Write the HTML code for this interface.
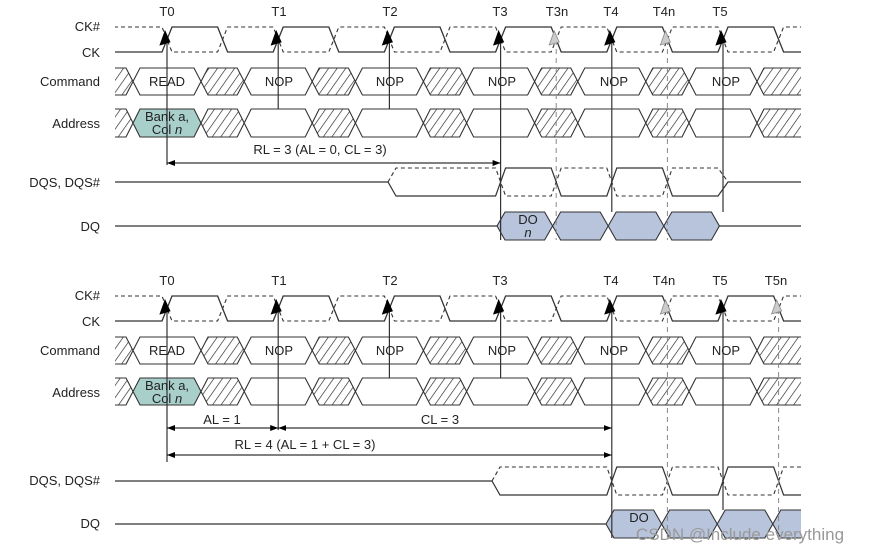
<!DOCTYPE html>
<html><head><meta charset="utf-8"><style>
body{margin:0;background:#fff;width:869px;height:554px;overflow:hidden}
svg{display:block}
text{font-family:"Liberation Sans",sans-serif;font-size:13px;fill:#222}
</style></head><body>
<svg id="s" width="869" height="554" viewBox="0 0 869 554">
<defs>
<pattern id="h" width="7" height="7" patternUnits="userSpaceOnUse" patternTransform="rotate(35)">
<line x1="0" y1="0" x2="0" y2="7" stroke="#222" stroke-width="1.3"/></pattern>
<clipPath id="c"><rect x="115" y="0" width="686" height="554"/></clipPath>
<marker id="a" markerWidth="8" markerHeight="6" refX="8" refY="3" orient="auto"><path d="M0,0L8,3L0,6z" fill="#000"/></marker>
<marker id="b" markerWidth="8" markerHeight="6" refX="0" refY="3" orient="auto"><path d="M8,0L0,3L8,6z" fill="#000"/></marker>
</defs>
<g id="g" clip-path="url(#c)"></g>
<g id="v"></g>
<text x="100" y="31" text-anchor="end">CK#</text>
<text x="100" y="57" text-anchor="end">CK</text>
<text x="100" y="86" text-anchor="end">Command</text>
<text x="100" y="128" text-anchor="end">Address</text>
<text x="100" y="187" text-anchor="end">DQS, DQS#</text>
<text x="100" y="231" text-anchor="end">DQ</text>
<text x="167" y="16" text-anchor="middle">T0</text>
<text x="279" y="16" text-anchor="middle">T1</text>
<text x="390" y="16" text-anchor="middle">T2</text>
<text x="500" y="16" text-anchor="middle">T3</text>
<text x="557" y="16" text-anchor="middle">T3n</text>
<text x="611" y="16" text-anchor="middle">T4</text>
<text x="664" y="16" text-anchor="middle">T4n</text>
<text x="720" y="16" text-anchor="middle">T5</text>
<text x="167" y="86" text-anchor="middle">READ</text>
<text x="279" y="86" text-anchor="middle">NOP</text>
<text x="390" y="86" text-anchor="middle">NOP</text>
<text x="502" y="86" text-anchor="middle">NOP</text>
<text x="614" y="86" text-anchor="middle">NOP</text>
<text x="726" y="86" text-anchor="middle">NOP</text>
<text x="167" y="121" text-anchor="middle">Bank a,</text>
<text x="167" y="134" text-anchor="middle">Col <tspan font-style="italic">n</tspan></text>
<text x="320" y="154" text-anchor="middle">RL = 3 (AL = 0, CL = 3)</text>
<text x="528" y="224" text-anchor="middle">DO</text>
<text x="528" y="237" text-anchor="middle" font-style="italic">n</text>

<text x="100" y="300" text-anchor="end">CK#</text>
<text x="100" y="326" text-anchor="end">CK</text>
<text x="100" y="355" text-anchor="end">Command</text>
<text x="100" y="397" text-anchor="end">Address</text>
<text x="100" y="485" text-anchor="end">DQS, DQS#</text>
<text x="100" y="528" text-anchor="end">DQ</text>
<text x="167" y="285" text-anchor="middle">T0</text>
<text x="279" y="285" text-anchor="middle">T1</text>
<text x="390" y="285" text-anchor="middle">T2</text>
<text x="500" y="285" text-anchor="middle">T3</text>
<text x="611" y="285" text-anchor="middle">T4</text>
<text x="664" y="285" text-anchor="middle">T4n</text>
<text x="720" y="285" text-anchor="middle">T5</text>
<text x="776" y="285" text-anchor="middle">T5n</text>
<text x="167" y="355" text-anchor="middle">READ</text>
<text x="279" y="355" text-anchor="middle">NOP</text>
<text x="390" y="355" text-anchor="middle">NOP</text>
<text x="502" y="355" text-anchor="middle">NOP</text>
<text x="614" y="355" text-anchor="middle">NOP</text>
<text x="726" y="355" text-anchor="middle">NOP</text>
<text x="167" y="390" text-anchor="middle">Bank a,</text>
<text x="167" y="403" text-anchor="middle">Col <tspan font-style="italic">n</tspan></text>
<text x="222" y="424" text-anchor="middle">AL = 1</text>
<text x="440" y="424" text-anchor="middle">CL = 3</text>
<text x="305" y="449" text-anchor="middle">RL = 4 (AL = 1 + CL = 3)</text>
<text x="639" y="522" text-anchor="middle">DO</text>
<text x="740" y="540" text-anchor="middle" style="fill:#999;font-size:17px">CSDN @Include everything</text>
</svg>
<script>
var NS="http://www.w3.org/2000/svg",G=document.getElementById('g'),V=document.getElementById('v');
function el(p,t,a){var e=document.createElementNS(NS,t);for(var k in a)e.setAttribute(k,a[k]);p.appendChild(e);return e;}
var P=111.2,T0=167;function T(k){return T0+P*k;}
function pl(p,pts,a){a.points=pts.map(function(q){return q[0]+','+q[1]}).join(' ');a.fill=a.fill||'none';return el(p,'polyline',a);}
function clock(yt,yb){var s=[[100,yb]],d=[[100,yt]];for(var k=0;k<7;k++){var t=T(k),f=t+P/2;
s.push([t-5,yb],[t+5,yt],[f-5,yt],[f+5,yb]);d.push([t-5,yt],[t+5,yb],[f-5,yb],[f+5,yt]);}
pl(G,s,{stroke:'#333','stroke-width':1.3});pl(G,d,{stroke:'#333','stroke-width':1.1,'stroke-dasharray':'4,3'});}
function hex(x0,x1,yt,yb,fill,s){s=s||7;var m=(yt+yb)/2;el(G,'polygon',{points:[[x0,m],[x0+s,yt],[x1-s,yt],[x1,m],[x1-s,yb],[x0+s,yb]].join(' '),fill:fill,stroke:'#333','stroke-width':1.1});}
function bus(yt,yb,first){var prev=95;for(var k=0;k<6;k++){var a=T(k)-34,b=T(k)+34;hex(prev,a,yt,yb,'url(#h)');
hex(a,b,yt,yb,(k==0&&first)?first:'#fff');prev=b;}hex(prev,830,yt,yb,'url(#h)');}
function dqs(yt,yb,p0,t0,te){var m=(yt+yb)/2,s=[[100,m],[p0,m],[p0+8,yb],[t0-5,yb]],d=[[p0,m],[p0+8,yt],[t0-5,yt]];
var x=t0,hi=true;while(x<(te||900)){var n=x+P/2;if(hi){s.push([x+5,yt],[n-5,yt]);d.push([x+5,yb],[n-5,yb]);}else{s.push([x+5,yb],[n-5,yb]);d.push([x+5,yt],[n-5,yt]);}hi=!hi;x=n;}
if(te){s.push([te+5,m],[830,m]);d.push([te+5,m]);}
pl(G,s,{stroke:'#333','stroke-width':1.2});pl(G,d,{stroke:'#333','stroke-width':1.1,'stroke-dasharray':'4,3'});}
function dq(yt,yb,d0,n){var m=(yt+yb)/2;el(G,'line',{x1:100,y1:m,x2:d0,y2:m,stroke:'#333','stroke-width':1.2});
var x=d0;for(var i=0;i<n;i++){hex(x,x+P/2,yt,yb,'#b7c4dc',8);x+=P/2;}if(n<6)el(G,'line',{x1:x,y1:m,x2:830,y2:m,stroke:'#333','stroke-width':1.2});}
function vl(x,y0,y1,dash){el(V,'line',{x1:x,y1:y0,x2:x,y2:y1,stroke:dash?'#888':'#333','stroke-width':dash?1:1.2,'stroke-dasharray':dash?'5,4':''});}
function arr(x,yt,gray){var y=yt+4;el(V,'polygon',{points:(x-1)+','+y+' '+(x-6)+','+(y+14)+' '+(x+4)+','+(y+11),fill:gray?'#ccc':'#000',stroke:gray?'#888':'#000','stroke-width':0.8});}
function harr(x0,x1,y){el(V,'line',{x1:x0,y1:y,x2:x1,y2:y,stroke:'#000','stroke-width':1,'marker-end':'url(#a)','marker-start':'url(#b)'});}
clock(27,52);bus(68,95,null);bus(109,137,'#a9cfcb');dqs(168,196,388,T(3),T(5));dq(212,240,497,4);
vl(T(0),40,165);vl(T(1),40,109);vl(T(2),40,109);vl(T(3),40,240);vl(T(4),40,212);vl(T(5),40,212);
vl(T(3)+P/2,40,240,1);vl(T(4)+P/2,40,240,1);
[0,1,2,3,4,5].forEach(function(k){arr(T(k)-1,27);});arr(T(3)+P/2-1,27,1);arr(T(4)+P/2-1,27,1);
harr(T(0),T(3),163);
clock(296,321);bus(337,364,null);bus(378,405,'#a9cfcb');dqs(467,495,492,T(4));dq(510,538,606,5);
vl(T(0),309,462);vl(T(1),309,430);vl(T(2),309,378);vl(T(3),309,378);vl(T(4),309,538);vl(T(5),309,510);
vl(T(4)+P/2,309,538,1);vl(T(5)+P/2,309,538,1);
[0,1,2,3,4,5].forEach(function(k){arr(T(k)-1,296);});arr(T(4)+P/2-1,296,1);arr(T(5)+P/2-1,296,1);
harr(T(0),T(1),428);harr(T(1),T(4),428);harr(T(0),T(4),455);
</script>
</body></html>
